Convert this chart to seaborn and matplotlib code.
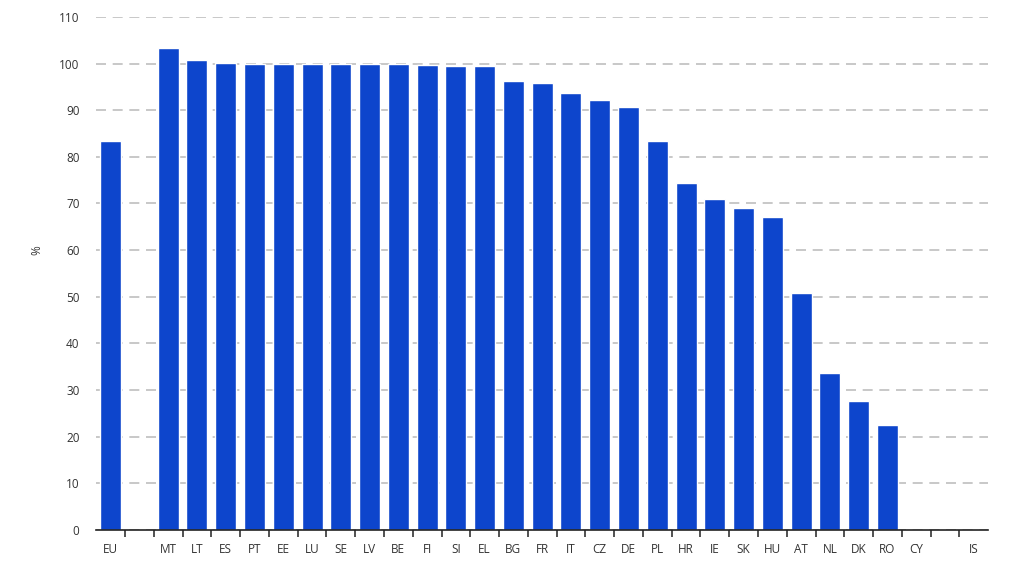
import matplotlib
matplotlib.use("Agg")
import matplotlib.pyplot as plt
import seaborn as sns
import numpy as np
import pandas as pd
from matplotlib.ticker import FixedLocator

categories = ["EU", "_gap1", "MT", "LT", "ES", "PT", "EE", "LU", "SE", "LV", "BE", "FI",
              "SI", "EL", "BG", "FR", "IT", "CZ", "DE", "PL", "HR", "IE", "SK", "HU",
              "AT", "NL", "DK", "RO", "CY", "_gap2", "IS"]
tick_labels = ["EU", "", "MT", "LT", "ES", "PT", "EE", "LU", "SE", "LV", "BE", "FI",
               "SI", "EL", "BG", "FR", "IT", "CZ", "DE", "PL", "HR", "IE", "SK", "HU",
               "AT", "NL", "DK", "RO", "CY", "", "IS"]
values = [83.4, np.nan, 103.3, 100.8, 100.1, 99.9, 99.9, 99.9, 99.9, 99.9, 99.9, 99.7,
          99.5, 99.5, 96.2, 95.9, 93.6, 92.1, 90.6, 83.4, 74.4, 71.0, 69.0, 67.1,
          50.8, 33.7, 27.6, 22.5, 0.0, np.nan, 0.0]

df = pd.DataFrame({"country": categories, "value": values})

sns.set_theme(style="white")
plt.rcParams['font.family'] = ['Open Sans', 'DejaVu Sans']

fig = plt.figure(figsize=(10.24, 5.63), dpi=100)
ax = fig.add_axes([0.094, 0.0586, 0.871, 0.9114])

sns.barplot(data=df, x="country", y="value", order=categories, color="#0d45cc",
            saturation=1, width=0.73, ax=ax, errorbar=None, zorder=3)

ax.set_ylim(0, 110)
ax.set_xlim(-0.5, len(categories) - 0.5)
ax.set_yticks(np.arange(0, 111, 10))
ax.yaxis.grid(True, linestyle=(0, (6, 4)), color="#bfbfbf", linewidth=1.2, zorder=0)
ax.xaxis.grid(False)
ax.set_axisbelow(True)

ax.set_xticks(range(len(categories)))
ax.set_xticklabels(tick_labels)
ax.xaxis.set_minor_locator(FixedLocator(np.arange(0.5, len(categories) - 0.5, 1)))
ax.tick_params(axis="x", which="major", length=0, pad=9, labelsize=8.5, labelcolor="#333333")
ax.tick_params(axis="x", which="minor", length=5, width=1.1, color="#222222", bottom=True)
ax.tick_params(axis="y", length=0, pad=12, labelsize=8.5, labelcolor="#333333")

for s in ["top", "right", "left"]:
    ax.spines[s].set_visible(False)
ax.spines["bottom"].set_color("#222222")
ax.spines["bottom"].set_linewidth(1.2)
ax.spines["bottom"].set_zorder(4)

ax.set_xlabel("")
ax.set_ylabel("%", fontsize=8.5, color="#333333")
ax.yaxis.set_label_coords(-0.059, 0.546)

fig.savefig("out.png", dpi=100)
